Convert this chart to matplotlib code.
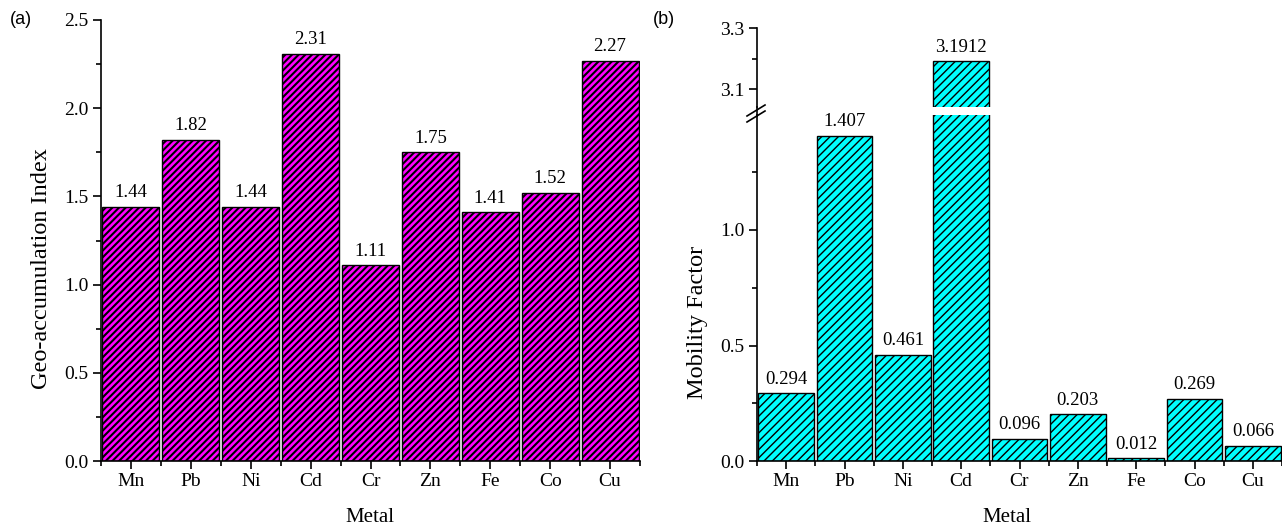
import numpy as np
import matplotlib
matplotlib.use('Agg')
import matplotlib.pyplot as plt
from matplotlib.ticker import MultipleLocator, FixedLocator
from matplotlib.lines import Line2D

# data
metals = ['Mn', 'Pb', 'Ni', 'Cd', 'Cr', 'Zn', 'Fe', 'Co', 'Cu']
igeo = [1.44, 1.82, 1.44, 2.31, 1.11, 1.75, 1.41, 1.52, 2.27]
mobility = [0.294, 1.407, 0.461, 3.1912, 0.096, 0.203, 0.012, 0.269, 0.066]

W, H = 1282, 527
plt.rcParams['font.family'] = ['Liberation Serif', 'DejaVu Serif']
plt.rcParams['hatch.linewidth'] = 1.5

fig = plt.figure(figsize=(W / 100, H / 100), dpi=100)


def px_axes(left, top, right, bottom):
    return fig.add_axes([left / W, 1 - bottom / H, (right - left) / W, (bottom - top) / H])


def style_axes(ax, bottom=True):
    for s in ['top', 'right']:
        ax.spines[s].set_visible(False)
    ax.spines['left'].set_linewidth(1.2)
    ax.spines['bottom'].set_linewidth(1.2)
    ax.tick_params(which='major', direction='out', length=6, width=1.2, labelsize=14, pad=3)
    ax.tick_params(which='minor', direction='out', length=3.5, width=1.2)
    if bottom:
        ax.set_xticks(range(len(metals)))
        ax.set_xticklabels(metals)
        ax.xaxis.set_minor_locator(FixedLocator(np.arange(-0.5, len(metals), 1)))
    else:
        ax.spines['bottom'].set_visible(False)
        ax.set_xticks([])
        ax.tick_params(axis='x', which='both', length=0)
    ax.set_xlim(-0.5, len(metals) - 0.5)


x = np.arange(len(metals))

# ---- (a) geo-accumulation index
ax1 = px_axes(101, 20, 640, 461)
ax1.bar(x, igeo, width=0.95, color='#FF00FF', edgecolor='black', linewidth=1.0, hatch='/////')
style_axes(ax1)
ax1.set_ylim(0, 2.5)
ax1.yaxis.set_major_locator(MultipleLocator(0.5))
ax1.yaxis.set_minor_locator(MultipleLocator(0.25))
ax1.yaxis.set_major_formatter('{x:.1f}')
for xi, v in zip(x, igeo):
    ax1.annotate(f'{v:.2f}', (xi, v), xytext=(0, 4), textcoords='offset points',
                 ha='center', va='bottom', fontsize=13.5)
fig.text(370 / W, 1 - 518 / H, 'Metal', fontsize=15, ha='center', va='center')
fig.text(42 / W, 1 - 269 / H, 'Geo-accumulation Index', rotation=90, fontsize=17.5,
         ha='center', va='center')
fig.text(10 / W, 1 - 20 / H, '(a)', family='Liberation Sans', fontsize=13, va='center')

# ---- (b) mobility factor, broken axis
plt.rcParams['hatch.linewidth'] = 1.0
lo_top = 3.3 - 0.26
ax2 = px_axes(757, 461 - 1.5 * 231, 1282, 461)
ax3 = px_axes(757, 28, 1282, 28 + 0.26 * 305)
for ax in (ax2, ax3):
    ax.bar(x, mobility, width=0.95, color='#00FFFF', edgecolor='black', linewidth=1.0, hatch='////')
style_axes(ax2)
style_axes(ax3, bottom=False)
ax2.set_ylim(0, 1.5)
ax2.yaxis.set_major_locator(FixedLocator([0, 0.5, 1.0]))
ax2.yaxis.set_minor_locator(FixedLocator([0.25, 0.75, 1.25]))
ax2.yaxis.set_major_formatter('{x:.1f}')
ax3.set_ylim(lo_top, 3.3)
ax3.yaxis.set_major_locator(FixedLocator([3.1, 3.3]))
ax3.yaxis.set_minor_locator(FixedLocator([3.2]))
ax3.yaxis.set_major_formatter('{x:.1f}')

for xi, v in zip(x, mobility):
    target = ax3 if v > 1.5 else ax2
    target.annotate(str(v), (xi, v), xytext=(0, 4), textcoords='offset points',
                    ha='center', va='bottom', fontsize=13.5, annotation_clip=False)

fig.text(1007 / W, 1 - 518 / H, 'Metal', fontsize=15, ha='center', va='center')
fig.text(697 / W, 1 - 322 / H, 'Mobility Factor', rotation=90, fontsize=17.5,
         ha='center', va='center')
fig.text(653 / W, 1 - 20 / H, '(b)', family='Liberation Sans', fontsize=13, va='center')


# join the spine through the break and draw the // marks
def fig_line(x0, y0, x1, y1, lw=1.2):
    fig.add_artist(Line2D([x0 / W, x1 / W], [1 - y0 / H, 1 - y1 / H],
                          transform=fig.transFigure, color='black', linewidth=lw))


fig_line(757, 107, 757, 116)
fig_line(747, 116, 765, 105)
fig_line(747, 122, 765, 111)

fig.savefig('out.png', dpi=100)
